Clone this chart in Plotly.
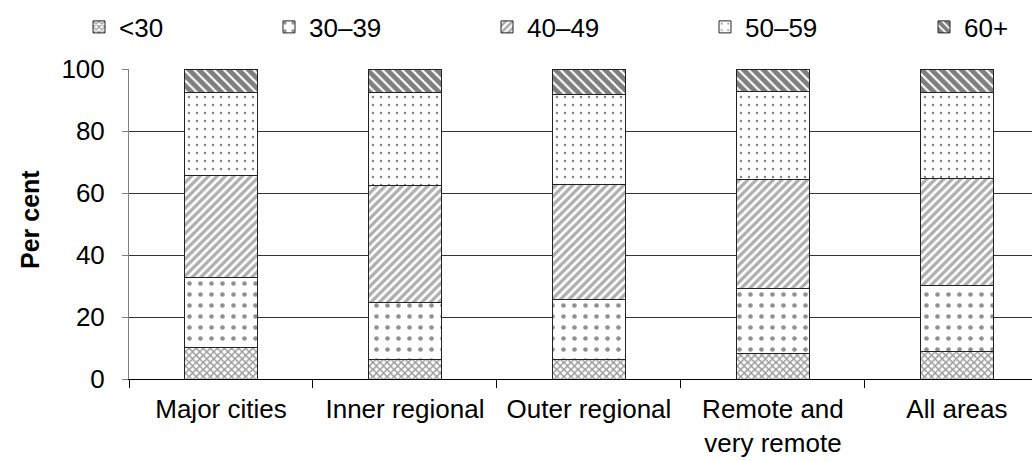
import plotly.graph_objects as go

categories = ["Major cities", "Inner regional", "Outer regional", "Remote and<br>very remote", "All areas"]
age_groups = ["<30", "30–39", "40–49", "50–59", "60+"]
v_under30 = [10.2, 6.4, 6.4, 8.2, 8.8]
v_30_39 = [22.7, 18.4, 19.1, 20.9, 21.5]
v_40_49 = [32.9, 37.6, 37.3, 35.3, 34.4]
v_50_59 = [26.7, 30.0, 29.1, 28.3, 27.8]
v_60plus = [7.5, 7.6, 8.1, 7.3, 7.5]
series = [v_under30, v_30_39, v_40_49, v_50_59, v_60plus]
y_ticks = [0, 20, 40, 60, 80, 100]

patterns = [
    dict(shape="x", fgcolor="#3c3c3c", bgcolor="white", size=5, solidity=0.5),
    dict(shape=".", fgcolor="#222222", bgcolor="white", size=11, solidity=0.14),
    dict(shape="/", fgcolor="#5e5e5e", bgcolor="white", size=6, solidity=0.55),
    dict(shape=".", fgcolor="black", bgcolor="white", size=8, solidity=0.07),
    dict(shape="\\", fgcolor="black", bgcolor="white", size=7, solidity=0.7),
]

FONT = "Liberation Sans, Arial, sans-serif"
W, H = 1032, 461
L, R, T, B = 129, 0, 69, 82

legend_names = ["legend", "legend2", "legend3", "legend4", "legend5"]
# symbol centre positions (px)
legend_px = [102, 292, 510, 728, 947]

fig = go.Figure()
for i, (name, vals) in enumerate(zip(age_groups, series)):
    fig.add_trace(go.Bar(
        x=categories, y=vals, name=name, width=0.4,
        marker=dict(color="white", line=dict(color="#222222", width=1), pattern=patterns[i]),
        legend=legend_names[i],
    ))

layout_legends = {}
for i, ln in enumerate(legend_names):
    layout_legends[ln] = dict(
        xref="container", yref="container",
        x=(legend_px[i] - 23) / W, xanchor="left",
        y=1 - 27 / H, yanchor="middle",
        orientation="h", bgcolor="rgba(0,0,0,0)", borderwidth=0,
        font=dict(family=FONT, size=26, color="black"),
        itemwidth=30, tracegroupgap=0,
    )

fig.update_layout(
    width=W, height=H,
    margin=dict(l=L, r=R, t=T, b=B, pad=0, autoexpand=False),
    paper_bgcolor="white", plot_bgcolor="white",
    barmode="stack",
    font=dict(family=FONT, size=26, color="black"),
    showlegend=True,
    **layout_legends,
)

fig.update_xaxes(
    type="category",
    range=[-0.5, 4.408],
    automargin=False,
    showline=True, linecolor="black", linewidth=1,
    ticks="outside", tickson="boundaries", ticklen=8, tickcolor="black",
    ticklabelstandoff=7,
    showgrid=False,
    tickfont=dict(family=FONT, size=26, color="black"),
)
fig.update_yaxes(
    range=[0, 100], tickvals=y_ticks,
    automargin=False,
    showline=True, linecolor="#808080", linewidth=1,
    ticks="outside", ticklen=6, tickcolor="#808080",
    ticklabelstandoff=12,
    showgrid=True, gridcolor="#333333", gridwidth=1,
    zeroline=False,
    tickfont=dict(family=FONT, size=26, color="black"),
)

fig.add_annotation(
    text="<b>Per cent</b>", textangle=-90,
    xref="paper", yref="paper",
    x=(30 - L) / (W - L - R), y=0.5 + (224 - 220) / (H - T - B),
    xanchor="center", yanchor="middle", showarrow=False,
    font=dict(family=FONT, size=25, color="black"),
)

fig.write_html("out.html")
